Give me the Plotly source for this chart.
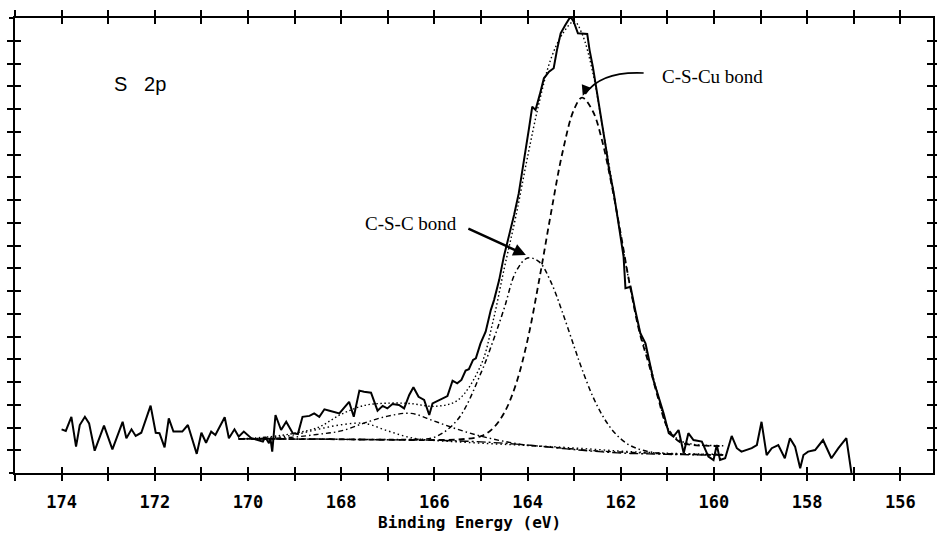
import plotly.graph_objects as go

# ---------------- data ----------------
# raw S 2p spectrum: binding energy (eV) and intensity (arb. units, 0-20 scale)
RAW_BE = [174.00, 173.91, 173.79, 173.69, 173.61, 173.50, 173.41, 173.29, 173.09, 172.91,
          172.69, 172.61, 172.50, 172.41, 172.29, 172.09, 171.98, 171.90, 171.79, 171.70,
          171.60, 171.41, 171.29, 171.10, 171.00, 170.90, 170.79, 170.70, 170.50, 170.41,
          170.29, 170.20, 170.09, 169.93, 169.79, 169.68, 169.63, 169.55, 169.52, 169.48,
          169.41, 169.29, 169.18, 169.04, 168.93, 168.83, 168.68, 168.58, 168.47, 168.36,
          168.25, 168.04, 167.83, 167.73, 167.61, 167.51, 167.36, 167.22, 167.11, 167.01,
          166.90, 166.76, 166.65, 166.54, 166.45, 166.34, 166.22, 166.11, 166.04, 165.90,
          165.72, 165.61, 165.51, 165.42, 165.33, 165.26, 165.17, 165.11, 165.01, 164.90,
          164.79, 164.72, 164.61, 164.51, 164.40, 164.29, 164.19, 164.12, 164.03, 163.97,
          163.90, 163.83, 163.74, 163.65, 163.54, 163.44, 163.37, 163.29, 163.19, 163.08,
          163.01, 162.92, 162.72, 162.67, 162.60, 162.53, 162.44, 162.37, 162.30, 162.26,
          162.15, 162.05, 161.94, 161.90, 161.79, 161.69, 161.58, 161.47, 161.40, 161.30,
          161.19, 161.08, 160.97, 160.87, 160.76, 160.65, 160.55, 160.44, 160.26, 160.12,
          160.01, 159.94, 159.87, 159.76, 159.62, 159.51, 159.41, 159.19, 159.08, 158.98,
          158.87, 158.76, 158.62, 158.48, 158.37, 158.26, 158.15, 158.08, 157.98, 157.83,
          157.66, 157.48, 157.33, 157.16, 157.05]
RAW_I = [1.92, 1.85, 2.47, 1.16, 2.11, 2.47, 2.18, 0.98, 2.08, 1.04,
         2.25, 1.53, 1.92, 1.63, 1.77, 2.96, 1.77, 1.75, 1.13, 2.40,
         1.82, 1.82, 2.11, 0.84, 1.77, 1.33, 1.82, 1.67, 2.45, 1.53,
         1.92, 1.60, 1.82, 1.53, 1.45, 1.38, 1.58, 1.31, 1.54, 0.94,
         2.55, 1.89, 2.25, 1.75, 1.71, 2.47, 2.51, 2.62, 2.47, 2.80,
         2.74, 2.62, 3.13, 2.47, 3.62, 3.57, 3.53, 2.74, 2.95, 2.84,
         3.03, 2.99, 2.84, 3.43, 3.77, 3.35, 3.21, 2.55, 3.06, 3.21,
         3.38, 4.06, 3.94, 4.09, 4.50, 4.56, 4.97, 5.04, 5.70, 6.21,
         7.16, 7.60, 8.48, 9.51, 10.39, 11.34, 12.29, 13.17, 14.20, 15.15,
         16.10, 15.96, 16.62, 17.35, 17.64, 17.79, 18.59, 19.33, 19.69, 20.06,
         19.84, 19.33, 19.30, 18.59, 17.86, 16.98, 15.96, 14.95, 14.05, 13.46,
         12.29, 10.98, 9.51, 8.12, 8.19, 7.16, 6.14, 5.70, 4.97, 4.09,
         3.35, 2.62, 1.75, 1.60, 1.89, 0.87, 1.75, 1.45, 1.38, 0.72,
         0.57, 1.23, 0.57, 0.65, 1.63, 1.09, 0.94, 1.09, 1.23, 2.25,
         0.79, 1.09, 1.23, 0.65, 1.53, 1.16, 0.21, 0.79, 0.94, 1.01,
         1.45, 0.65, 1.09, 1.53, 0.00]

# fit grid (eV)
FIT_BE = [170.2, 169.5, 169.0, 168.5, 168.0, 167.5, 167.0, 166.5, 166.0, 165.5,
          165.0, 164.75, 164.5, 164.25, 164.0, 163.75, 163.5, 163.25, 163.0, 162.83,
          162.6, 162.4, 162.2, 162.0, 161.8, 161.6, 161.4, 161.2, 161.0, 160.75,
          160.5, 160.2, 159.8]
BACKGROUND = [1.50, 1.50, 1.49, 1.49, 1.48, 1.47, 1.46, 1.45, 1.44, 1.41,
              1.37, 1.34, 1.31, 1.27, 1.23, 1.18, 1.13, 1.08, 1.03, 1.00,
              0.96, 0.93, 0.90, 0.88, 0.86, 0.85, 0.84, 0.83, 0.82, 0.81,
              0.80, 0.79, 0.79]
C_S_CU = [1.50, 1.50, 1.49, 1.49, 1.48, 1.47, 1.46, 1.45, 1.45, 1.47,
          1.62, 1.95, 2.65, 3.90, 5.85, 8.50, 11.40, 14.10, 16.00, 16.50,
          15.90, 14.60, 12.70, 10.50, 8.20, 6.20, 4.80, 3.30, 2.00, 1.38,
          1.24, 1.20, 1.18]
C_S_C = [1.50, 1.50, 1.49, 1.49, 1.48, 1.47, 1.47, 1.48, 1.57, 2.35,
         4.40, 5.75, 7.25, 8.85, 9.45, 9.28, 8.40, 7.05, 5.55, 4.55,
         3.36, 2.55, 1.93, 1.50, 1.21, 1.04, 0.94, 0.88, 0.85, 0.83,
         0.82, 0.81, 0.80]
ENVELOPE = [1.50, 1.60, 1.75, 2.00, 2.58, 2.97, 3.07, 3.05, 2.93, 3.20,
            4.75, 6.60, 9.00, 11.30, 13.90, 16.30, 18.20, 19.30, 19.85, 19.30,
            17.60, 15.30, 12.90, 10.40, 8.20, 6.30, 4.95, 3.40, 2.00, 1.45,
            1.28, 1.22, 1.20]

OX1_BE = [170.2, 169.5, 169.0, 168.5, 168.0, 167.5, 167.0, 166.5, 166.0, 165.5,
          165.0, 164.5, 164.0, 163.5, 163.0, 162.5, 162.0, 161.5, 161.0, 160.5, 159.8]
OX1 = [1.50, 1.52, 1.58, 1.70, 1.85, 2.20, 2.50, 2.62, 2.28, 1.92,
       1.62, 1.39, 1.22, 1.14, 1.05, 0.97, 0.92, 0.88, 0.84, 0.82, 0.80]

OX2_BE = [170.2, 169.5, 169.0, 168.5, 168.0, 167.5, 167.0, 166.5, 166.0, 165.5,
          165.0, 164.5, 164.0, 163.5, 163.0, 162.5, 162.0, 161.5, 161.0, 160.5, 159.8]
OX2 = [1.50, 1.55, 1.68, 1.92, 2.12, 2.18, 1.85, 1.55, 1.43, 1.37,
       1.31, 1.26, 1.21, 1.16, 1.10, 1.03, 0.96, 0.91, 0.87, 0.84, 0.82]

X_TICKS = list(range(175, 155, -1))
X_TICK_TEXT = [str(v) if v % 2 == 0 and v != 175 else "" for v in X_TICKS]
Y_TICKS = list(range(0, 21))

# ---------------- figure ----------------
BLACK = "#000000"
fig = go.Figure()

fig.add_trace(go.Scatter(x=FIT_BE, y=BACKGROUND, mode="lines", line_shape="spline",
                         line=dict(color=BLACK, width=1.4, dash="9px,3px,2px,3px")))
fig.add_trace(go.Scatter(x=OX2_BE, y=OX2, mode="lines", line_shape="spline",
                         line=dict(color=BLACK, width=1.4, dash="1.5px,3px")))
fig.add_trace(go.Scatter(x=OX1_BE, y=OX1, mode="lines", line_shape="spline",
                         line=dict(color=BLACK, width=1.4, dash="5px,3px,1.5px,3px")))
fig.add_trace(go.Scatter(x=FIT_BE, y=C_S_C, mode="lines", line_shape="spline",
                         line=dict(color=BLACK, width=1.5, dash="5px,3px,1.5px,3px")))
fig.add_trace(go.Scatter(x=FIT_BE, y=C_S_CU, mode="lines", line_shape="spline",
                         line=dict(color=BLACK, width=1.8, dash="6px,4px")))
fig.add_trace(go.Scatter(x=FIT_BE, y=ENVELOPE, mode="lines", line_shape="spline",
                         line=dict(color=BLACK, width=1.4, dash="1.5px,2.5px")))
fig.add_trace(go.Scatter(x=RAW_BE, y=RAW_I, mode="lines",
                         line=dict(color=BLACK, width=2)))
# helper traces so the overlaid tick axes are drawn
fig.add_trace(go.Scatter(x=[], y=[], xaxis="x2", yaxis="y", showlegend=False))
fig.add_trace(go.Scatter(x=[], y=[], xaxis="x", yaxis="y2", showlegend=False))

X_RANGE = [175, 155.3]
Y_RANGE = [0, 20]

fig.update_layout(
    width=937, height=534,
    margin=dict(l=15, r=2, t=18, b=61),
    paper_bgcolor="white", plot_bgcolor="white",
    showlegend=False,
    xaxis=dict(range=X_RANGE, tickmode="array", tickvals=X_TICKS, ticktext=X_TICK_TEXT,
               ticks="outside", ticklen=6, tickwidth=2, tickcolor=BLACK,
               showline=True, linewidth=2, linecolor=BLACK, mirror="allticks",
               showgrid=False, zeroline=False, ticklabelstandoff=7,
               tickfont=dict(family="DejaVu Sans Mono", size=17, color=BLACK, weight="bold")),
    xaxis2=dict(range=X_RANGE, overlaying="x", anchor="y", side="bottom",
                tickmode="array", tickvals=X_TICKS, showticklabels=False,
                ticks="inside", ticklen=6, tickwidth=2, tickcolor=BLACK,
                mirror="allticks", showline=False, showgrid=False, zeroline=False),
    yaxis=dict(range=Y_RANGE, tickmode="array", tickvals=Y_TICKS, showticklabels=False,
               ticks="inside", ticklen=6, tickwidth=1.5, tickcolor=BLACK,
               showline=True, linewidth=2, linecolor=BLACK, mirror="allticks",
               showgrid=False, zeroline=False),
    yaxis2=dict(range=Y_RANGE, overlaying="y", anchor="x", side="left",
                tickmode="array", tickvals=Y_TICKS, showticklabels=False,
                ticks="outside", ticklen=5, tickwidth=1.5, tickcolor=BLACK,
                showline=False, showgrid=False, zeroline=False),
)

# texts
fig.add_annotation(xref="paper", yref="paper", x=0.4946, y=-0.108, showarrow=False,
                   text="Binding Energy (eV)", xanchor="center", yanchor="middle",
                   font=dict(family="DejaVu Sans Mono", size=16, color=BLACK, weight="bold"))
fig.add_annotation(xref="paper", yref="paper", x=0.1054, y=0.855, showarrow=False,
                   text="S\u00a0\u00a0\u00a02p", xanchor="left", yanchor="middle",
                   font=dict(family="Liberation Sans", size=20, color=BLACK))
fig.add_annotation(xref="paper", yref="paper", x=0.703, y=0.8725, showarrow=False,
                   text="C-S-Cu bond", xanchor="left", yanchor="middle",
                   font=dict(family="Liberation Serif", size=19, color=BLACK))
fig.add_annotation(xref="paper", yref="paper", x=0.3786, y=0.5473, showarrow=False,
                   text="C-S-C bond", xanchor="left", yanchor="middle",
                   font=dict(family="Liberation Serif", size=19, color=BLACK))

# C-S-C arrow (straight, thick)
fig.add_annotation(xref="paper", yref="paper", x=0.5565, y=0.4791, text="",
                   showarrow=True, arrowhead=2, arrowsize=1, arrowwidth=2.5,
                   arrowcolor=BLACK, ax=-59, ay=-27, standoff=0)

# C-S-Cu arrow (curved): curve + head
fig.add_shape(type="path", xref="paper", yref="paper",
              path="M 0.6848 0.8791 Q 0.6380 0.8835 0.6212 0.8330",
              line=dict(color=BLACK, width=1.6))
fig.add_annotation(xref="paper", yref="paper", x=0.6185, y=0.8290, text="",
                   showarrow=True, arrowhead=2, arrowsize=1.3, arrowwidth=1.6,
                   arrowcolor=BLACK, ax=4, ay=-10, standoff=0)

fig.write_html("out.html")
